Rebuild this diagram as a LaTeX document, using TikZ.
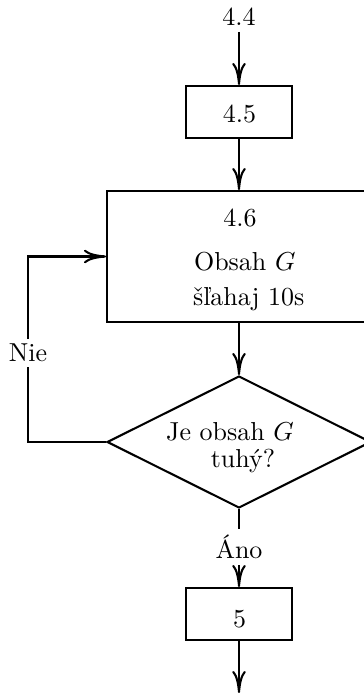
\documentclass[tikz,border=0pt]{standalone}
\usepackage{fontspec}
\usetikzlibrary{arrows.meta,shapes.geometric}
\begin{document}
\begin{tikzpicture}[x=0.385pt,y=-0.385pt,
  line width=0.8pt,
  flow/.style={-{Computer Modern Rightarrow[length=8.5pt,width=5.2pt]}},
  procbox/.style={draw,rectangle,inner sep=0pt},
  decbox/.style={draw,diamond,inner sep=0pt},
  txt/.style={inner sep=0pt,anchor=base}]
\useasboundingbox (0,0) rectangle (363,693);

% process boxes and decision
\node[procbox,minimum width=40.8pt,minimum height=20pt] (b45) at (239,112) {};
\node[procbox,minimum width=101.6pt,minimum height=50.4pt] (b46) at (239,256.5) {};
\node[decbox,minimum width=101.6pt,minimum height=50.8pt] (dec) at (239,442) {};
\node[procbox,minimum width=40.8pt,minimum height=20pt] (b5) at (239,614) {};

% texts
\node[txt] (t44) at (239,26) {4.4};
\node[txt] at (239.5,123) {4.5};
\node[txt] at (240,227) {4.6};
\node[txt,anchor=base west] at (193,271) {Obsah $G$};
\node[txt,anchor=base west] at (192,306) {šľahaj 10s};
\node[txt] at (230,440) {Je obsah $G$};
\node[txt] at (243,467) {tuhý?};
\node[txt] at (239.5,627) {5};
\node[inner sep=2pt] (ano) at (239,547) {Áno};
\node[inner sep=1.5pt] (nie) at (28,353) {Nie};
\coordinate (start) at (239,32);
\coordinate (out) at (239,693);

% connectors
\draw[flow] (start) -- (b45.north);
\draw[flow] (b45.south) -- (b46.north);
\draw[flow] (b46.south) -- (dec.north);
\draw (dec.south) -- (ano.north);
\draw[flow] (ano.south) -- (b5.north);
\draw[flow] (b5.south) -- (out);
\draw (dec.west) -| (nie.south);
\draw[flow] (nie.north) |- (b46.west);
\end{tikzpicture}
\end{document}
